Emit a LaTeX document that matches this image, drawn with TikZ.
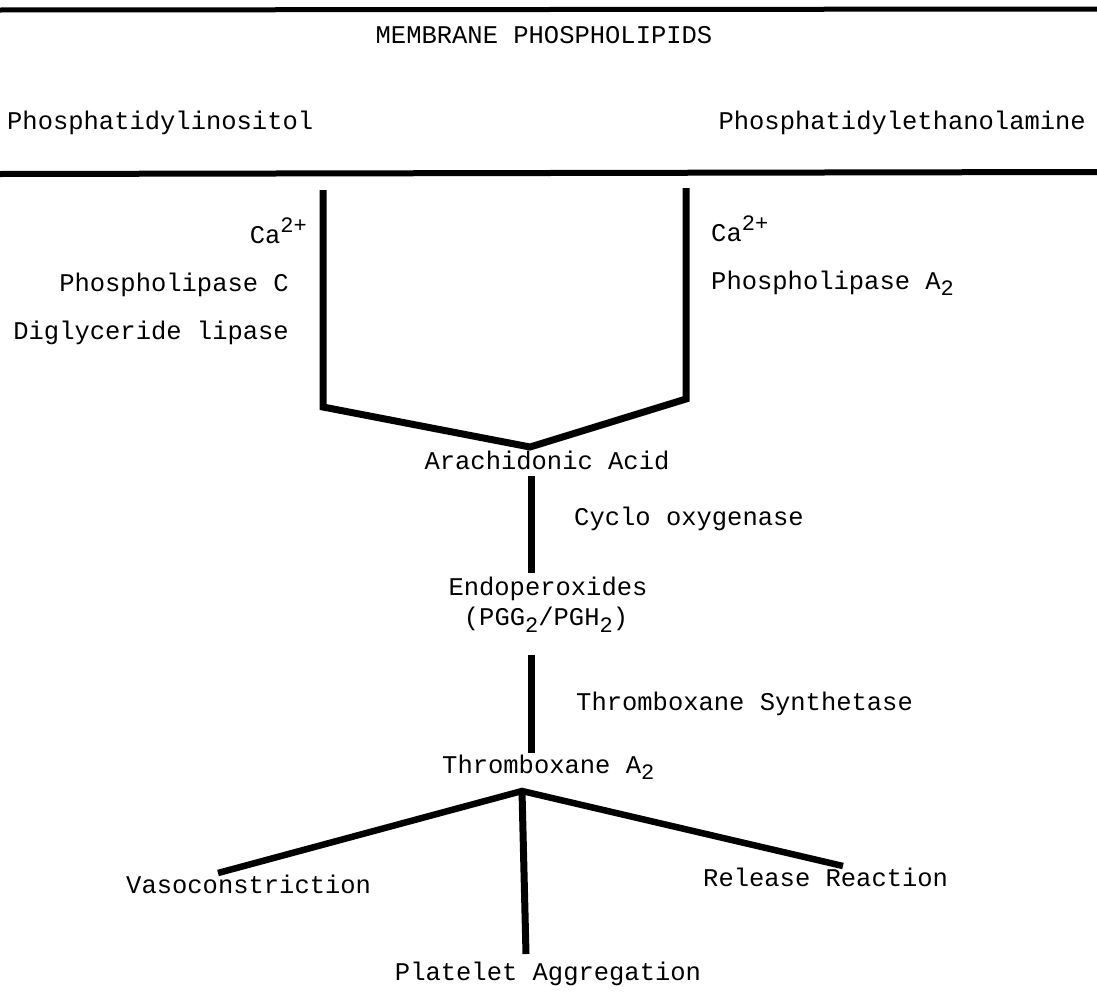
\documentclass[tikz,border=0pt]{standalone}
\usepackage{fontspec}
\setmonofont{Liberation Mono}
\newcommand\fs[1]{\fontsize{#1}{#1}\selectfont}
\newcommand\lowtwo{\raisebox{-0.5ex}{\fs{22}2}}
\newcommand\hightwo{\raisebox{0.8ex}{\fs{22}2+}}
\begin{document}
\begin{tikzpicture}[x=1pt,y=-1pt,
  lbl/.style={font=\ttfamily\fs{25.5}, inner sep=0pt},
  rule/.style={line width=5pt},
  heavy/.style={line width=7pt, line join=miter},
  branch/.style={line width=6.5pt}]
\useasboundingbox (0,0) rectangle (1097,996);
% rules
\coordinate (t1) at (0,10); \coordinate (t2) at (1097,9);
\coordinate (b1) at (0,174); \coordinate (b2) at (1097,172);
\draw[rule] (t1) -- (t2);
\draw[rule,line width=6pt] (b1) -- (b2);
% header texts
\node[lbl] (mem) at (544,35) {MEMBRANE PHOSPHOLIPIDS};
\node[lbl,anchor=mid west] (pi) at (7,127) {Phosphatidylinositol};
\node[lbl,anchor=mid east] (pe) at (1086,127) {Phosphatidylethanolamine};
% V
\coordinate (L1) at (323,190); \coordinate (L2) at (323,407);
\coordinate (apex) at (530,447);
\coordinate (R2) at (686,399); \coordinate (R1) at (686,188);
\draw[heavy] (L1) -- (L2) -- (apex) -- (R2) -- (R1);
% left enzymes
\node[lbl,anchor=mid east] (cal) at (307,241) {Ca\hightwo};
\node[lbl,anchor=mid east] (plc) at (289,289) {Phospholipase C};
\node[lbl,anchor=mid east] (dgl) at (289,337) {Diglyceride lipase};
% right enzymes
\node[lbl,anchor=mid west] (car) at (711,239) {Ca\hightwo};
\node[lbl,anchor=mid west] (pla) at (711,287) {Phospholipase A\lowtwo};
% main chain
\node[lbl] (aa) at (547,460) {Arachidonic Acid};
\coordinate (a1) at (531,476); \coordinate (a2) at (531,573);
\draw[heavy] (a1) -- (a2);
\node[lbl,anchor=mid west] (cox) at (574,523) {Cyclo oxygenase};
\node[lbl] (endo) at (548,589) {Endoperoxides};
\node[lbl] (pgg) at (546,620) {(PGG\lowtwo/PGH\lowtwo)};
\coordinate (e1) at (531,655); \coordinate (e2) at (531,753);
\draw[heavy] (e1) -- (e2);
\node[lbl,anchor=mid west] (txs) at (576,708) {Thromboxane Synthetase};
\node[lbl,anchor=mid west] (txa) at (442,771) {Thromboxane A\lowtwo};
% branches
\coordinate (bp) at (522,791);
\coordinate (v) at (218,873); \coordinate (r) at (843,866); \coordinate (p) at (526,954);
\draw[branch] (v) -- (bp) -- (r);
\draw[heavy] (bp) -- (p);
\node[lbl,anchor=mid west] (vaso) at (126,891) {Vasoconstriction};
\node[lbl,anchor=mid west] (rel) at (703,884) {Release Reaction};
\node[lbl] (plt) at (548,974) {Platelet Aggregation};
\end{tikzpicture}
\end{document}
